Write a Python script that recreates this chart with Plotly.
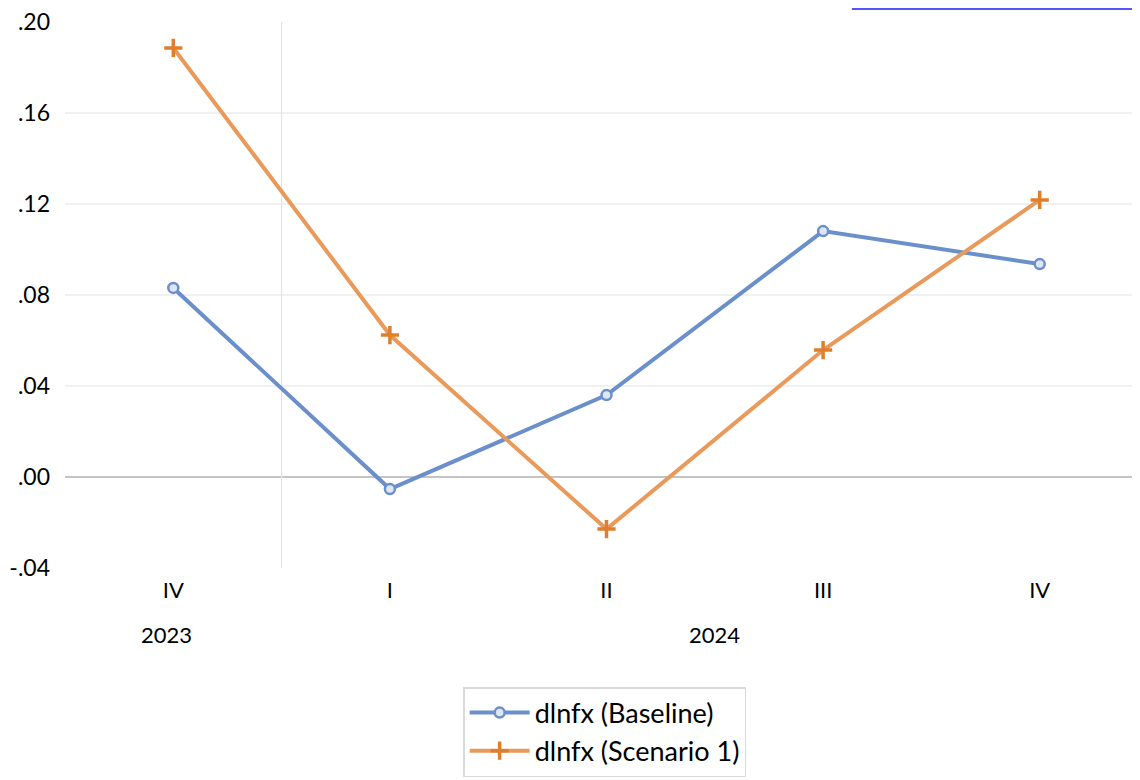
import plotly.graph_objects as go

quarters = ["IV", "I", "II", "III", "IV"]
years = ["2023", "2024"]
year_spans = [(0, 0), (1, 4)]
baseline = [0.0831, -0.0053, 0.0360, 0.1081, 0.0936]
scenario1 = [0.1886, 0.0624, -0.0229, 0.0558, 0.1218]
ytick_vals = [-0.04, 0.0, 0.04, 0.08, 0.12, 0.16, 0.20]
ytick_text = ["-.04", ".00", ".04", ".08", ".12", ".16", ".20"]
grid_vals = [0.04, 0.08, 0.12, 0.16]

FONT = "Lato"
BLUE = "#6b8fca"
ORANGE = "#e99a5b"
xs = list(range(len(quarters)))

fig = go.Figure()
fig.add_trace(go.Scatter(
    x=xs, y=baseline, mode="lines+markers", name="dlnfx (Baseline)",
    line=dict(color=BLUE, width=4),
    marker=dict(symbol="circle", size=10, color="#dfe6f3",
                line=dict(color=BLUE, width=2.5)),
))
fig.add_trace(go.Scatter(
    x=xs, y=scenario1, mode="lines+markers", name="dlnfx (Scenario 1)",
    line=dict(color=ORANGE, width=4),
    marker=dict(symbol="cross-thin", size=13,
                line=dict(color="#df7f2c", width=3.5)),
))

shapes = []
for g in grid_vals:
    shapes.append(dict(type="line", xref="paper", yref="y", x0=0, x1=1, y0=g, y1=g,
                       line=dict(color="#e3e3e3", width=1.2), layer="below"))
shapes.append(dict(type="line", xref="paper", yref="y", x0=0, x1=1, y0=0, y1=0,
                   line=dict(color="#c4c4c4", width=2), layer="below"))
shapes.append(dict(type="line", xref="x", yref="paper", x0=0.5, x1=0.5, y0=0, y1=1,
                   line=dict(color="#e3e3e3", width=1.2), layer="below"))
# clipped hyperlink underline at top
shapes.append(dict(type="line", xref="paper", yref="paper", x0=0.732, x1=1.0,
                   y0=1.0238, y1=1.0238, line=dict(color="#1a1aff", width=1.5)))

annotations = []
for yr, (a, b) in zip(years, year_spans):
    annotations.append(dict(x=(a + b) / 2 - (0.03 if a == b else 0), y=-0.150, xref="x", yref="paper",
                            text=yr, showarrow=False,
                            font=dict(family=FONT, size=22, color="#000000")))

fig.update_layout(
    width=1132, height=772,
    margin=dict(l=57, r=0, t=14, b=212),
    plot_bgcolor="white", paper_bgcolor="white",
    font=dict(family=FONT, size=22, color="#000000"),
    xaxis=dict(range=[-0.5, 4.463], tickvals=xs, ticktext=quarters,
               showgrid=False, zeroline=False, showline=False, ticks="",
               tickfont=dict(size=22), ticklabelstandoff=7),
    yaxis=dict(range=[-0.04, 0.20], tickvals=ytick_vals, ticktext=ytick_text,
               showgrid=False, zeroline=False, showline=False, ticks="",
               tickfont=dict(size=23), ticklabelstandoff=14,
               ticklabeloverflow="allow"),
    shapes=shapes,
    annotations=annotations,
    showlegend=True,
    legend=dict(x=0.502, xanchor="center", y=-0.218, yanchor="top",
                bgcolor="white", bordercolor="#d9d9d9", borderwidth=1.5,
                font=dict(family=FONT, size=27), itemwidth=60,
                tracegroupgap=0),
)

fig.write_html("out.html")
